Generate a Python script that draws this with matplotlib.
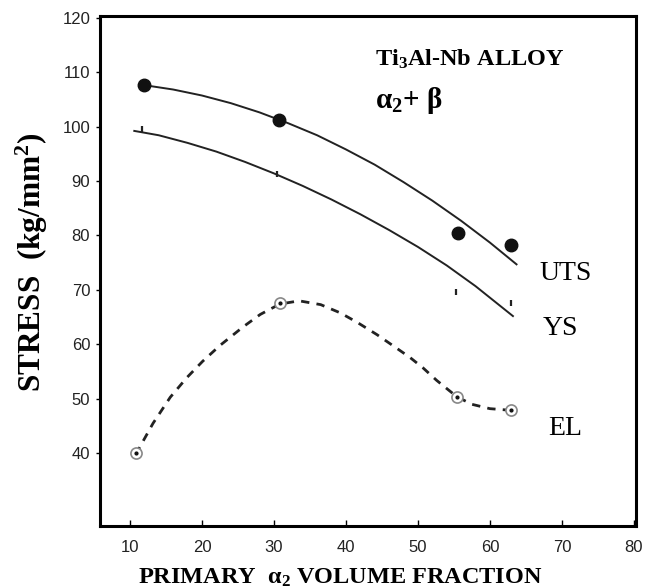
import matplotlib
matplotlib.use("Agg")
from matplotlib import pyplot as plt

plt.rcParams['font.family'] = ['Liberation Serif', 'DejaVu Serif']
plt.rcParams['mathtext.fontset'] = 'custom'
plt.rcParams['mathtext.rm'] = 'Liberation Serif:bold'
plt.rcParams['mathtext.it'] = 'Liberation Serif:bold'
plt.rcParams['mathtext.bf'] = 'Liberation Serif:bold'

# measured points
uts_x = [11.9, 30.7, 55.6, 62.9]
uts_y = [107.6, 101.2, 80.4, 78.2]
ys_x = [11.7, 30.4, 55.3, 62.9]
ys_y = [99.6, 91.2, 69.6, 67.6]
el_x = [10.8, 30.8, 55.4, 62.9]
el_y = [40.0, 67.6, 50.4, 47.9]

# fitted curves
uts_curve_x = [12, 16, 20, 24, 28, 32, 36, 40, 44, 48, 52, 56, 60, 63.7]
uts_curve_y = [107.6, 106.8, 105.7, 104.3, 102.6, 100.6, 98.4, 95.8, 93.0, 89.8, 86.4, 82.7, 78.7, 74.7]
ys_curve_x = [10.6, 14, 18, 22, 26, 30, 34, 38, 42, 46, 50, 54, 58, 63.2]
ys_curve_y = [99.2, 98.4, 97.0, 95.4, 93.5, 91.4, 89.1, 86.6, 83.9, 81.0, 77.9, 74.5, 70.7, 65.2]
el_curve_x = [10.8, 13.2, 15.6, 17.9, 20.1, 22.5, 25.7, 28.1, 30.8, 33.5, 36.5, 39.2, 41.5,
              44.3, 46.5, 48.9, 50.7, 52.6, 55.4, 57.5, 60.0, 62.9]
el_curve_y = [39.8, 45.5, 50.3, 53.9, 56.9, 59.8, 63.2, 65.5, 67.4, 68.0, 67.3, 65.8, 64.1,
              61.8, 59.8, 57.6, 55.7, 53.4, 50.4, 49.0, 48.2, 47.9]

x_ticks = [10, 20, 30, 40, 50, 60, 70, 80]
y_ticks = [40, 50, 60, 70, 80, 90, 100, 110, 120]

fig = plt.figure(figsize=(6.49, 5.88), dpi=100)
ax = fig.add_axes([0.154, 0.1054, 0.826, 0.8674])

ax.plot(uts_curve_x, uts_curve_y, color='#222222', lw=1.4)
ax.plot(ys_curve_x, ys_curve_y, color='#222222', lw=1.4)
ax.plot(el_curve_x, el_curve_y, color='#222222', lw=2, linestyle=(0, (3, 2.6)))

ax.plot(uts_x, uts_y, 'o', color='#111111', ms=9, zorder=3)
ax.plot(ys_x, ys_y, '|', color='#222222', ms=4, mew=1.6, zorder=3)
ax.plot(el_x, el_y, 'o', mfc='white', mec='#888888', mew=1.2, ms=8, zorder=3)
ax.plot(el_x, el_y, '.', color='#111111', ms=4, zorder=4)

ax.set_xlim(5.83, 80.3)
ax.set_ylim(26.65, 120.3)
ax.set_xticks(x_ticks)
ax.set_yticks(y_ticks)
ax.tick_params(axis='x', direction='in', length=4, width=1, pad=10)
ax.tick_params(axis='y', direction='out', length=3, width=1, pad=4)
for lab in ax.get_xticklabels() + ax.get_yticklabels():
    lab.set_fontfamily('Liberation Sans')
    lab.set_fontsize(12)
    lab.set_color('#222222')
for s in ax.spines.values():
    s.set_linewidth(2.2)

ax.text(44.0, 112.4, r"$\mathbf{Ti_3Al}$-Nb ALLOY", fontsize=17.5, fontweight='bold', va='center')
ax.text(44.0, 104.8, r"$\mathbf{\alpha_2}$+ $\mathbf{\beta}$", fontsize=21, fontweight='bold', va='center')
ax.text(66.9, 73.1, "UTS", fontsize=20, va='center')
ax.text(67.4, 62.9, "YS", fontsize=20, va='center')
ax.text(68.1, 44.6, "EL", fontsize=20, va='center')

fig.text(340 / 649, 1 - 578 / 588, r"PRIMARY  $\mathbf{\alpha_2}$ VOLUME FRACTION",
         fontsize=17.5, fontweight='bold', ha='center', va='center')
fig.text(32 / 649, 1 - 262 / 588, r"STRESS  (kg/$\mathbf{mm^2}$)",
         fontsize=22.5, fontweight='bold', ha='center', va='center', rotation=90)

fig.savefig("out.png", dpi=100)
